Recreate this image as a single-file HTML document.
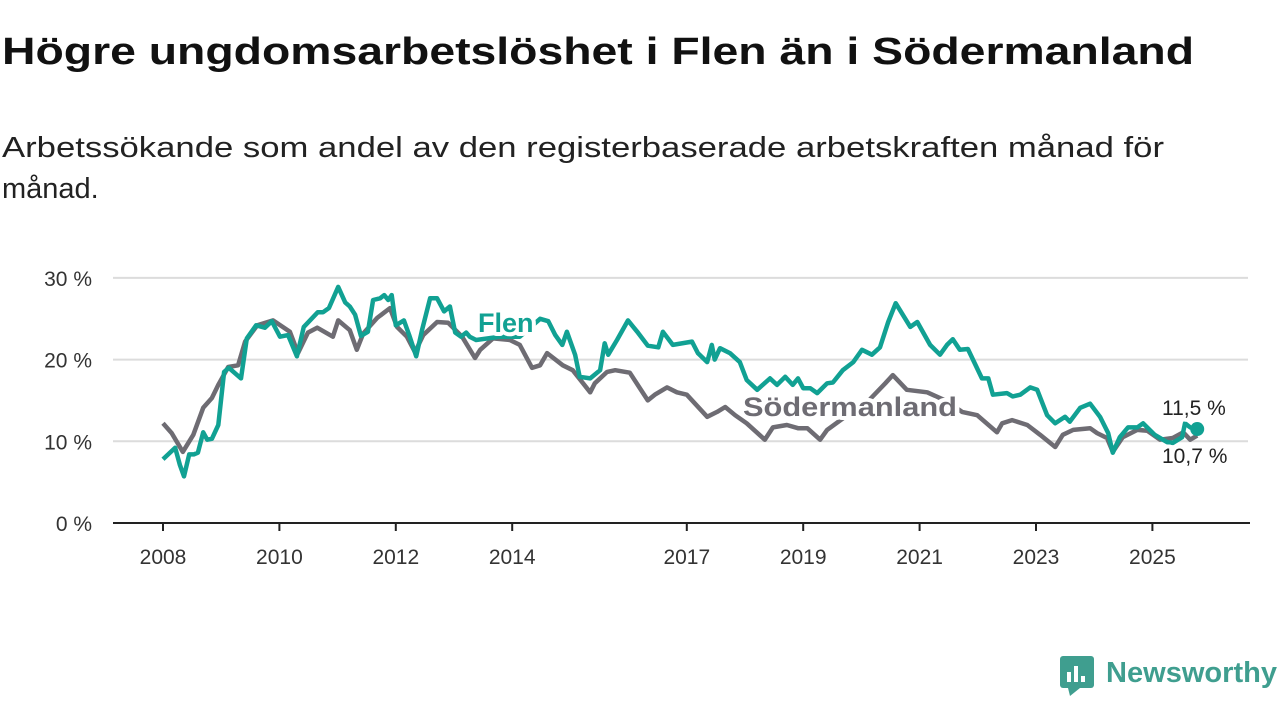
<!DOCTYPE html>
<html><head><meta charset="utf-8">
<style>
html,body{margin:0;padding:0;background:#fff;}
svg{display:block;font-family:"Liberation Sans",sans-serif;}
</style></head>
<body>
<svg id="chart" width="1280" height="720" viewBox="0 0 1280 720">
<text x="2" y="64" font-size="38" font-weight="bold" fill="#111" textLength="1192" lengthAdjust="spacingAndGlyphs">Högre ungdomsarbetslöshet i Flen än i Södermanland</text>
<text x="2" y="157" font-size="29" fill="#222" textLength="1162" lengthAdjust="spacingAndGlyphs">Arbetssökande som andel av den registerbaserade arbetskraften månad för</text>
<text x="2" y="198" font-size="29" fill="#222">månad.</text>
<g id="grid"></g>
<g id="yticks"></g>
<g id="xticks"></g>
<g id="series"></g>
<g>
<rect x="1060" y="656" width="34" height="32" rx="3" fill="#3f9e8f"/>
<polygon points="1068,688 1080,688 1070,696" fill="#3f9e8f"/>
<rect x="1067" y="672" width="4" height="10" fill="#fff"/><rect x="1074" y="666" width="4" height="16" fill="#fff"/><rect x="1081" y="676" width="4" height="6" fill="#fff"/>
<text x="1106" y="682" font-size="29" font-weight="bold" fill="#3f9e8f" textLength="171" lengthAdjust="spacingAndGlyphs">Newsworthy</text>
</g>
</svg>
<script>
const flenT = [0,.21,.29,.36,.45,.53,.60,.69,.76,.84,.95,1.05,1.13,1.34,1.44,1.60,1.75,1.87,2.01,2.15,2.30,2.42,2.66,2.75,2.85,3.01,3.13,3.21,3.30,3.40,3.52,3.61,3.73,3.80,3.87,3.93,4.00,4.14,4.23,4.35,4.45,4.59,4.71,4.83,4.93,5.02,5.12,5.21,5.27,5.38,5.79,6.13,6.48,6.62,6.74,6.86,6.94,7.08,7.16,7.34,7.51,7.59,7.65,7.80,7.99,8.16,8.33,8.51,8.59,8.76,9.09,9.19,9.35,9.43,9.48,9.57,9.74,9.91,10.03,10.21,10.43,10.55,10.69,10.82,10.91,11.00,11.12,11.24,11.41,11.51,11.68,11.86,12.01,12.18,12.32,12.46,12.59,12.84,12.96,13.18,13.35,13.47,13.57,13.69,13.83,14.07,14.18,14.26,14.50,14.60,14.73,14.90,15.02,15.19,15.33,15.50,15.58,15.76,15.93,16.10,16.24,16.32,16.44,16.58,16.74,16.84,17.04,17.25,17.35,17.51,17.56,17.65,17.77];
const flenV = [7.8,9.2,7.1,5.7,8.4,8.4,8.6,11.1,10.2,10.3,12.0,18.5,19,17.7,22.6,24.2,23.9,24.7,22.8,23.0,20.4,24,25.8,25.8,26.3,28.9,27,26.5,25.5,22.9,23.4,27.3,27.5,27.9,27.3,27.9,24.2,24.8,23,20.4,23.6,27.5,27.5,25.9,26.5,23.3,22.8,23.3,22.8,22.4,22.8,22.8,25,24.7,23,21.8,23.4,20.6,17.9,17.7,18.7,22,20.6,22.4,24.8,23.3,21.7,21.5,23.4,21.8,22.2,20.8,19.7,21.8,20,21.4,20.8,19.7,17.5,16.3,17.7,16.9,17.9,16.9,17.7,16.5,16.5,15.9,17.1,17.2,18.7,19.7,21.2,20.6,21.5,24.6,26.9,24,24.6,21.8,20.6,21.8,22.5,21.2,21.3,17.7,17.7,15.7,15.9,15.5,15.7,16.6,16.3,13.2,12.2,13,12.4,14.1,14.6,13,11,8.6,10.5,11.7,11.7,12.2,10.8,9.9,9.8,10.5,12.2,11.7,11.5];
const sormT = [0,.15,.34,.52,.69,.84,.95,1.12,1.29,1.41,1.62,1.89,2.18,2.32,2.49,2.65,2.92,3.01,3.21,3.33,3.44,3.68,3.90,4.02,4.19,4.33,4.47,4.71,4.90,5.14,5.36,5.45,5.67,5.96,6.13,6.34,6.48,6.60,6.87,7.04,7.34,7.42,7.63,7.77,8.02,8.33,8.45,8.66,8.83,9.00,9.35,9.52,9.66,9.83,10.03,10.34,10.48,10.72,10.91,11.07,11.29,11.41,11.72,12.06,12.41,12.54,12.78,13.13,13.44,13.73,13.99,14.33,14.42,14.59,14.85,15.07,15.33,15.46,15.64,15.93,16.05,16.22,16.32,16.49,16.74,16.91,17.13,17.35,17.53,17.65,17.77];
const sormV = [12.2,11,8.7,10.8,14.1,15.3,16.9,19.1,19.3,22.2,24.2,24.8,23.4,20.8,23.3,23.9,22.8,24.8,23.6,21.2,23.2,25.1,26.3,24,22.8,20.9,23,24.6,24.5,22.8,20.2,21.2,22.6,22.4,21.8,19,19.3,20.8,19.3,18.7,16,17.1,18.5,18.7,18.4,15,15.7,16.6,16,15.7,13,13.6,14.2,13.2,12.2,10.2,11.7,12,11.6,11.6,10.2,11.4,13,14.5,17.1,18.1,16.3,16,15,13.6,13.2,11.1,12.2,12.6,12,10.8,9.3,10.8,11.4,11.6,11,10.4,8.7,10.5,11.4,11.3,10.2,10.4,11.1,10.2,10.7];
const yTicks = [0,10,20,30];
const yTickLabels = ["0 %","10 %","20 %","30 %"];
const xTicks = [2008,2010,2012,2014,2017,2019,2021,2023,2025];
const lastLabels = ["11,5 %","10,7 %"];

const NS="http://www.w3.org/2000/svg";
const X0=163, PXY=58.2, Y0=523, PXV=8.17;
const xs = yr => X0 + (yr-2008)*PXY;
const ys = v => Y0 - v*PXV;
function mk(tag, attrs, parent, text){const e=document.createElementNS(NS,tag);for(const k in attrs)e.setAttribute(k,attrs[k]);if(text!==undefined)e.textContent=text;parent.appendChild(e);return e;}
const grid=document.getElementById('grid'), yt=document.getElementById('yticks'), xt=document.getElementById('xticks'), ser=document.getElementById('series');
yTicks.forEach((v,i)=>{
  if(v>0){const l=mk('line',{x1:113,x2:1248,y1:ys(v),y2:ys(v),stroke:'#dcdcdc','stroke-width':2},grid);
  
  }
  const t=mk('text',{x:92,y:ys(v)+8,'font-size':21,fill:'#333','text-anchor':'end'},yt,yTickLabels[i]);
  
  
});
const ax=mk('line',{x1:113,x2:1250,y1:Y0,y2:Y0,stroke:'#222','stroke-width':2},xt);


xTicks.forEach(y=>{
  const tk=mk('line',{x1:xs(y),x2:xs(y),y1:Y0,y2:Y0+8,stroke:'#222','stroke-width':2},xt);
  
  
  const t=mk('text',{x:xs(y),y:Y0+41,'font-size':21,fill:'#333','text-anchor':'middle'},xt,String(y));
  
  
});
function path(T,V){return T.map((t,i)=>(i?'L':'M')+xs(2008+t).toFixed(1)+','+ys(V[i]).toFixed(1)).join('');}
const ps=mk('path',{d:path(sormT,sormV),fill:'none',stroke:'#6e6c73','stroke-width':4.5,'stroke-linejoin':'round'},ser);


const pf=mk('path',{d:path(flenT,flenV),fill:'none',stroke:'#11a193','stroke-width':4.5,'stroke-linejoin':'round'},ser);


const lt=flenT[flenT.length-1];
const dot=mk('circle',{cx:xs(2008+lt),cy:ys(flenV[flenV.length-1]),r:7,fill:'#11a193'},ser);


const halo={stroke:'#fff','stroke-width':8,'paint-order':'stroke','stroke-linejoin':'round'};
const lf=mk('text',Object.assign({x:478,y:332,'font-size':27,'font-weight':'bold',fill:'#11a193'},halo),ser,'Flen');


const ls=mk('text',Object.assign({x:743,y:416,'font-size':27,'font-weight':'bold',fill:'#6e6c73',textLength:214,lengthAdjust:'spacingAndGlyphs'},halo),ser,'Södermanland');


const v1=mk('text',Object.assign({x:1162,y:415,'font-size':21,fill:'#222'},halo),ser,lastLabels[0]);


const v2=mk('text',Object.assign({x:1162,y:463,'font-size':21,fill:'#222'},halo),ser,lastLabels[1]);


</script>
</body></html>
